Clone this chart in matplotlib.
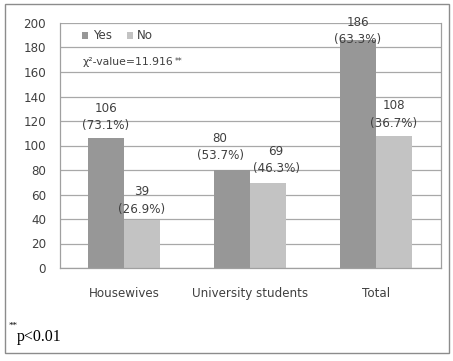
import numpy as np
import matplotlib.pyplot as plt
from matplotlib.patches import Rectangle

# data
categories = ['Housewives', 'University students', 'Total']
yes_counts = [106, 80, 186]
no_counts = [39, 69, 108]
yes_pct = ['73.1%', '53.7%', '63.3%']
no_pct = ['26.9%', '46.3%', '36.7%']

plt.rcParams['font.family'] = ['DejaVu Sans']
fs = 8.6
txt = '#404040'

fig = plt.figure(figsize=(4.53, 3.61), dpi=100)
# outer frame round the whole figure
fig.patches.append(Rectangle((5 / 453, 8 / 361), 444 / 453, 349 / 361,
                             transform=fig.transFigure, fill=False,
                             edgecolor='#8c8c8c', linewidth=1.0))

ax = fig.add_axes([60 / 453, 93 / 361, 381 / 453, 245 / 361])

x = np.arange(len(categories))
w = 0.286
bars_yes = ax.bar(x - w / 2, yes_counts, w, color='#979797', label='Yes', zorder=2)
bars_no = ax.bar(x + w / 2, no_counts, w, color='#c3c3c3', label='No', zorder=2)

# label nudges (points) - the Excel original shifts a few labels to avoid clashes
yes_nudge = [(0, 4.2), (-8.6, 5.5), (0, -4.4)]
no_nudge = [(0, 3.2), (5.8, 5.8), (0, 4.2)]
for bars, vals, pcts, nudge in [(bars_yes, yes_counts, yes_pct, yes_nudge),
                                (bars_no, no_counts, no_pct, no_nudge)]:
    for b, v, p, off in zip(bars, vals, pcts, nudge):
        ax.annotate(f'{v}\n({p})', (b.get_x() + b.get_width() / 2, v),
                    xytext=off, textcoords='offset points',
                    ha='center', va='bottom', fontsize=fs, color=txt,
                    linespacing=1.45, zorder=3)

ax.set_xlim(-0.508, 2.516)
ax.set_ylim(0, 200)
ax.set_yticks(range(0, 201, 20))
ax.set_xticks(x)
ax.set_xticklabels(categories)
ax.tick_params(axis='both', length=0, labelsize=fs, colors=txt)
ax.tick_params(axis='x', pad=13.5)
ax.tick_params(axis='y', pad=10)
ax.grid(axis='y', color='#a8a8a8', linewidth=0.9, zorder=0)
for s in ['top', 'left', 'right', 'bottom']:
    ax.spines[s].set_color('#a0a0a0')
    ax.spines[s].set_linewidth(0.9)
ax.spines['top'].set_visible(False)

leg = ax.legend(loc='upper left', bbox_to_anchor=(0.037, 1.008), ncol=2, frameon=False,
                fontsize=fs, handlelength=0.5, handleheight=0.5, handletextpad=0.35,
                columnspacing=1.3, borderaxespad=0.3, labelcolor=txt)

chi = ax.text(0.06, 0.842, 'χ²-value=11.916', transform=ax.transAxes, fontsize=7.8,
              color=txt, ha='left', va='center')
ax.annotate('**', xy=(1, 1), xycoords=chi, xytext=(0.8, 0), textcoords='offset points',
            fontsize=5.5, color=txt, ha='left', va='top')

fig.text(17 / 453, 1 - 337 / 361, 'p<0.01', family='Liberation Serif',
         fontsize=11.5, color='black', va='center', ha='left')
fig.text(18 / 453, 1 - 326 / 361, '**', family='Liberation Serif', fontsize=6.5,
         color='black', va='center', ha='right')

fig.savefig('out.png', dpi=100)
